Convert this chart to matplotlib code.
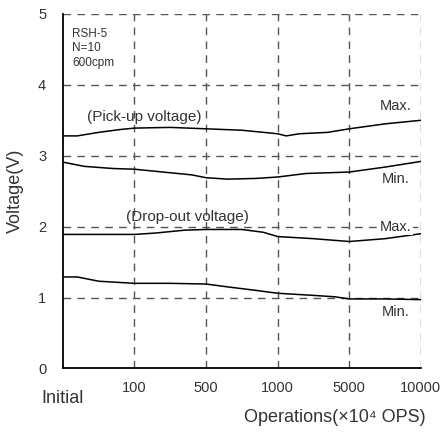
import matplotlib
matplotlib.use('Agg')
import matplotlib.pyplot as plt

plt.rcParams['font.family'] = ['Liberation Sans', 'DejaVu Sans']

# x positions are evenly spaced categories: Initial, 100, 500, 1000, 5000, 10000
tick_labels = ["Initial", "100", "500", "1000", "5000", "10000"]

# curve samples (category position, voltage)
pick_max_x = [0, 0.2, 0.5, 0.8, 1.0, 1.5, 2.0, 2.5, 3.0, 3.12, 3.3, 3.7, 4.0, 4.5, 5.0]
pick_max_v = [3.28, 3.28, 3.33, 3.37, 3.39, 3.40, 3.38, 3.36, 3.31, 3.28, 3.31, 3.33, 3.38, 3.45, 3.50]

pick_min_x = [0, 0.3, 0.7, 1.0, 1.5, 1.8, 2.0, 2.3, 2.7, 3.0, 3.4, 4.0, 4.5, 5.0]
pick_min_v = [2.91, 2.85, 2.82, 2.81, 2.76, 2.73, 2.69, 2.67, 2.68, 2.70, 2.75, 2.77, 2.84, 2.92]

drop_max_x = [0, 0.5, 1.0, 1.3, 1.7, 2.0, 2.5, 2.8, 3.0, 3.5, 4.0, 4.5, 5.0]
drop_max_v = [1.89, 1.89, 1.89, 1.91, 1.95, 1.96, 1.96, 1.92, 1.86, 1.83, 1.79, 1.83, 1.90]

drop_min_x = [0, 0.2, 0.5, 1.0, 1.5, 2.0, 2.3, 2.7, 3.0, 3.5, 3.8, 4.0, 4.5, 5.0]
drop_min_v = [1.29, 1.29, 1.23, 1.20, 1.20, 1.19, 1.15, 1.10, 1.06, 1.03, 1.01, 0.98, 0.98, 0.97]

txt = '#333333'
grid_c = '#555555'

fig = plt.figure(figsize=(4.43, 4.37), dpi=100)
ax = fig.add_axes([0.142, 0.157, 0.808, 0.811])

for xs, vs in [(pick_max_x, pick_max_v), (pick_min_x, pick_min_v),
               (drop_max_x, drop_max_v), (drop_min_x, drop_min_v)]:
    ax.plot(xs, vs, color='black', lw=1.1, zorder=3)

dash = (0, (5.5, 4.5))
for y in [1, 2, 3, 4, 5]:
    ax.axhline(y, color=grid_c, lw=1, linestyle=dash, zorder=1)
for x in [1, 2, 3, 4, 5]:
    ax.axvline(x, color=grid_c, lw=1, linestyle=dash, zorder=1)

ax.set_xlim(0, 5)
ax.set_ylim(0, 5)
for s in ['top', 'right']:
    ax.spines[s].set_visible(False)
for s in ['left', 'bottom']:
    ax.spines[s].set_linewidth(1.3)

ax.set_yticks(range(6))
ax.set_yticklabels([str(i) for i in range(6)], fontsize=10.5, color=txt)
ax.set_xticks(range(6))
ax.set_xticklabels(tick_labels, fontsize=10.5, color=txt)
ax.tick_params(axis='both', length=0)
ax.tick_params(axis='y', pad=12)
ax.tick_params(axis='x', pad=9)
lab0 = ax.get_xticklabels()[0]
lab0.set_fontsize(13)
lab0.set_y(-0.025)

ax.set_ylabel("Voltage(V)", fontsize=13, color=txt, labelpad=10)
fig.text(0.96, 0.035, "Operations(×10⁴ OPS)", fontsize=13, color=txt, ha='right')

ax.text(0.13, 4.8, "RSH-5\nN=10\n600cpm", fontsize=8.5, color=txt,
        va='top', linespacing=1.25)
ax.text(0.33, 3.55, "(Pick-up voltage)", fontsize=11, color=txt, va='center')
ax.text(0.88, 2.14, "(Drop-out voltage)", fontsize=11, color=txt, va='center')
ax.text(4.65, 3.7, "Max.", fontsize=10.5, color=txt, ha='center', va='center')
ax.text(4.65, 2.67, "Min.", fontsize=10.5, color=txt, ha='center', va='center')
ax.text(4.65, 2.0, "Max.", fontsize=10.5, color=txt, ha='center', va='center',
        bbox=dict(facecolor='white', edgecolor='none', pad=1), zorder=4)
ax.text(4.65, 0.8, "Min.", fontsize=10.5, color=txt, ha='center', va='center')

fig.savefig('out.png', dpi=100)
